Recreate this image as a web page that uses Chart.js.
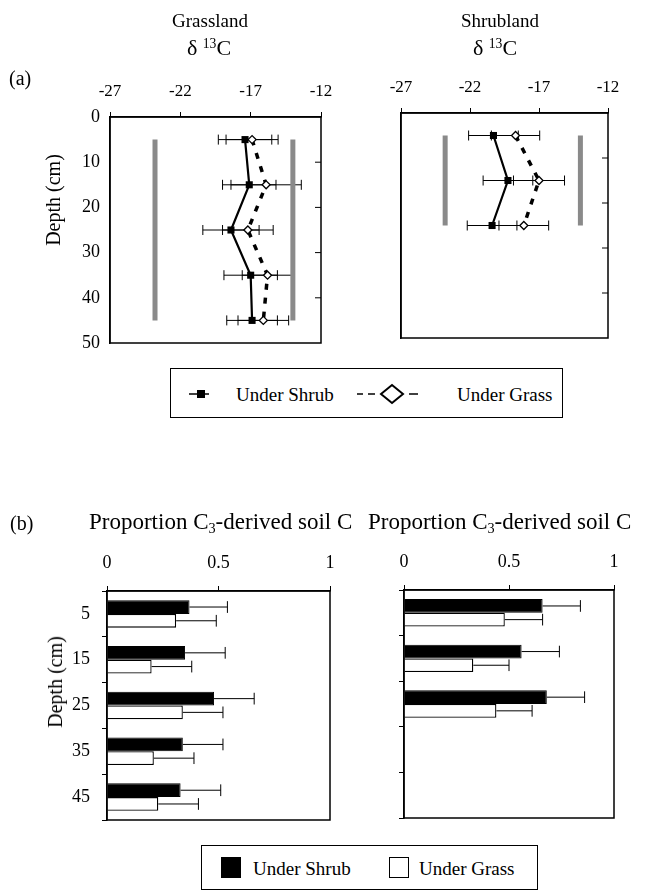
<!DOCTYPE html>
<html>
<head>
<meta charset="utf-8">
<script src="https://cdn.jsdelivr.net/npm/chart.js@4.4.1/dist/chart.umd.min.js"></script>
<style>
body { margin:0; background:#fff; }
#page { position:relative; width:658px; height:893px; overflow:hidden; font-family:"Liberation Serif", "Times New Roman", serif; color:#000; }
canvas { position:absolute; }
.txt { position:absolute; white-space:nowrap; line-height:1; transform:translate(-50%,-50%); }
.ltxt { position:absolute; white-space:nowrap; line-height:1; transform:translateY(-50%); }
.vtxt { position:absolute; white-space:nowrap; line-height:1; transform:translate(-50%,-50%) rotate(-90deg); }
.box { position:absolute; border:1px solid #000; box-sizing:border-box; }
sup { font-size:0.62em; vertical-align:0.55em; line-height:0; }
sub { font-size:0.62em; vertical-align:-0.3em; line-height:0; }
svg { position:absolute; overflow:visible; }
</style>
</head>
<body>
<div id="page">
  <canvas id="ga" width="340" height="360" style="left:0;top:0"></canvas>
  <canvas id="sa" width="318" height="360" style="left:340px;top:0"></canvas>
  <canvas id="gb" width="340" height="320" style="left:0;top:520px"></canvas>
  <canvas id="sb" width="318" height="320" style="left:340px;top:520px"></canvas>

  <div class="txt" style="left:210px;top:20px;font-size:19px">Grassland</div>
  <div class="txt" style="left:209px;top:48px;font-size:22px">δ <sup>13</sup>C</div>
  <div class="txt" style="left:500px;top:20px;font-size:19px">Shrubland</div>
  <div class="txt" style="left:495px;top:48px;font-size:22px">δ <sup>13</sup>C</div>
  <div class="ltxt" style="left:9px;top:78px;font-size:20px">(a)</div>
  <div class="vtxt" style="left:53px;top:200px;font-size:20px">Depth (cm)</div>

  <div class="box" style="left:170px;top:368px;width:393px;height:50px"></div>
  <svg style="left:186px;top:386px" width="26" height="16">
    <line x1="3" y1="8" x2="23" y2="8" stroke="#000" stroke-width="1.5"/>
    <rect x="11" y="4" width="8" height="8" fill="#000"/>
  </svg>
  <div class="ltxt" style="left:236px;top:394px;font-size:19px">Under Shrub</div>
  <svg style="left:354px;top:382px" width="68" height="24">
    <line x1="3" y1="12" x2="9" y2="12" stroke="#000" stroke-width="1.5"/>
    <line x1="14" y1="12" x2="21" y2="12" stroke="#000" stroke-width="1.5"/>
    <polygon points="27,12 38,3 49,12 38,21" fill="#fff" stroke="#000" stroke-width="2"/>
    <line x1="55" y1="12" x2="64" y2="12" stroke="#000" stroke-width="1.5"/>
  </svg>
  <div class="ltxt" style="left:457px;top:394px;font-size:19px">Under Grass</div>

  <div class="ltxt" style="left:10px;top:523px;font-size:20px">(b)</div>
  <div class="ltxt" style="left:89px;top:521px;font-size:23px">Proportion C<sub>3</sub>-derived soil C</div>
  <div class="ltxt" style="left:368px;top:521px;font-size:23px">Proportion C<sub>3</sub>-derived soil C</div>
  <div class="vtxt" style="left:55px;top:682px;font-size:20px">Depth (cm)</div>

  <div class="box" style="left:201px;top:845px;width:337px;height:45px"></div>
  <div style="position:absolute;left:221px;top:857px;width:20px;height:21px;background:#000"></div>
  <div class="ltxt" style="left:253px;top:868px;font-size:19px">Under Shrub</div>
  <div style="position:absolute;left:389px;top:857px;width:20px;height:21px;border:1px solid #000;box-sizing:border-box;background:#fff"></div>
  <div class="ltxt" style="left:419px;top:868px;font-size:19px">Under Grass</div>
</div>

<script>
// depths and tick values
var depths = [5, 15, 25, 35, 45];
var depthTicks = [0, 10, 20, 30, 40, 50];
var d13cTicks = [-27, -22, -17, -12];
var depthLabels = ['5', '15', '25', '35', '45'];
var propTicks = [0, 0.5, 1];

// (a) delta 13C, grassland site
var grassSiteShrub = [-17.4, -17.1, -18.4, -17.0, -16.9];
var grassSiteShrubErr = [1.9, 1.9, 2.0, 1.9, 1.8];
var grassSiteGrass = [-16.9, -15.9, -17.2, -15.8, -16.1];
var grassSiteGrassErr = [1.85, 2.5, 1.8, 1.8, 1.8];

// (a) delta 13C, shrubland site
var shrubSiteShrub = [-20.3, -19.25, -20.4];
var shrubSiteShrubErr = [1.8, 1.8, 1.8];
var shrubSiteGrass = [-18.7, -17.0, -18.1];
var shrubSiteGrassErr = [1.75, 1.85, 1.8];

// C3 / C4 end members (grey bars) and the depth span they cover
var endMembers = [-23.8, -14.0];
var grassSiteSpan = [5, 45];
var shrubSiteSpan = [5, 25];

// (b) proportion of C3-derived soil C
var grassPropShrub = [0.37, 0.35, 0.48, 0.34, 0.33];
var grassPropShrubErr = [0.17, 0.18, 0.18, 0.18, 0.18];
var grassPropGrass = [0.31, 0.20, 0.34, 0.21, 0.23];
var grassPropGrassErr = [0.18, 0.18, 0.18, 0.18, 0.18];
var shrubPropShrub = [0.66, 0.56, 0.68];
var shrubPropShrubErr = [0.18, 0.18, 0.18];
var shrubPropGrass = [0.48, 0.33, 0.44];
var shrubPropGrassErr = [0.18, 0.17, 0.17];

var serif = "'Liberation Serif', 'Times New Roman', serif";
Chart.defaults.font.family = serif;
Chart.defaults.color = '#000';

// box round the plot, error bars, and the little inward ticks on the right edge
var frameAndErrors = {
  id: 'frameAndErrors',
  beforeDatasetsDraw: function(chart) {
    var ctx = chart.ctx, xs = chart.scales.x, ys = chart.scales.y;
    ctx.save();
    ctx.strokeStyle = '#000';
    ctx.lineWidth = 1;
    chart.data.datasets.forEach(function(ds, i) {
      if (!ds.errors) return;
      var meta = chart.getDatasetMeta(i);
      ds.data.forEach(function(p, k) {
        var err = ds.errors[k];
        var x1, x2, py, half;
        if (typeof p === 'number') {
          // one-sided bar error
          var el = meta.data[k];
          x1 = xs.getPixelForValue(p);
          x2 = xs.getPixelForValue(p + err);
          py = el.y;
          half = el.height / 2 - 1;
          ctx.beginPath();
          ctx.moveTo(x1, py); ctx.lineTo(x2, py);
          ctx.moveTo(x2, py - half); ctx.lineTo(x2, py + half);
          ctx.stroke();
        } else {
          x1 = xs.getPixelForValue(p.x - err);
          x2 = xs.getPixelForValue(p.x + err);
          py = ys.getPixelForValue(p.y);
          half = 5;
          ctx.beginPath();
          ctx.moveTo(x1, py); ctx.lineTo(x2, py);
          ctx.moveTo(x1, py - half); ctx.lineTo(x1, py + half);
          ctx.moveTo(x2, py - half); ctx.lineTo(x2, py + half);
          ctx.stroke();
        }
      });
    });
    ctx.restore();
  },
  afterDraw: function(chart, args, opts) {
    var ctx = chart.ctx, a = chart.chartArea, ys = chart.scales.y;
    ctx.save();
    ctx.strokeStyle = '#000';
    ctx.lineWidth = 1.5;
    ctx.strokeRect(a.left, a.top, a.right - a.left, a.bottom - a.top);
    if (opts.innerTicks) {
      ctx.lineWidth = 1;
      opts.innerTicks.forEach(function(v) {
        var py = ys.getPixelForValue(v);
        ctx.beginPath();
        ctx.moveTo(a.right, py); ctx.lineTo(a.right - 6, py);
        ctx.stroke();
      });
    }
    ctx.restore();
  }
};

function fixSize(w, h) {
  return function(scale) {
    if (w != null) scale.width = w;
    if (h != null) scale.height = h;
    scale.paddingLeft = 0; scale.paddingRight = 0;
    scale.paddingTop = 0; scale.paddingBottom = 0;
  };
}

function plainLabel(v) { return String(v); }

function toPoints(vals) {
  return vals.map(function(v, i) { return {x: v, y: depths[i]}; });
}

function makeDeltaChart(id, shrub, shrubErr, grass, grassErr, span, pad, yW, xH, showY) {
  var grey = endMembers.map(function(v) {
    return {
      data: [{x: v, y: span[0]}, {x: v, y: span[1]}],
      showLine: true, borderColor: '#8a8a8a', borderWidth: 5, borderCapStyle: 'butt',
      pointRadius: 0
    };
  });
  return new Chart(document.getElementById(id), {
    type: 'scatter',
    data: {
      datasets: [
        { label: 'Under Shrub', data: toPoints(shrub), errors: shrubErr, showLine: true,
          borderColor: '#000', borderWidth: 2.2, pointStyle: 'rect', pointRadius: 5,
          pointBackgroundColor: '#000', pointBorderColor: '#000', pointBorderWidth: 0 },
        { label: 'Under Grass', data: toPoints(grass), errors: grassErr, showLine: true,
          borderColor: '#000', borderWidth: 3.5, borderDash: [6, 8], pointStyle: 'rectRot', pointRadius: 4,
          pointBackgroundColor: '#fff', pointBorderColor: '#000', pointBorderWidth: 1.3 }
      ].concat(grey)
    },
    options: {
      responsive: false, animation: false, devicePixelRatio: 1,
      layout: { padding: pad },
      plugins: { legend: {display: false}, tooltip: {enabled: false},
                 frameAndErrors: { innerTicks: depthTicks.slice(1, -1) } },
      scales: {
        x: {
          type: 'linear', position: 'top', min: -27, max: -12,
          afterBuildTicks: function(s) { s.ticks = d13cTicks.map(function(v) { return {value: v}; }); },
          afterFit: fixSize(null, xH),
          grid: { drawOnChartArea: false, drawTicks: true, tickLength: 5, color: '#000' },
          border: { color: '#000', width: 1.5 },
          ticks: { padding: 10, maxRotation: 0, callback: plainLabel, font: {family: serif, size: 17} }
        },
        y: {
          type: 'linear', position: 'left', min: 0, max: 50, reverse: true,
          afterBuildTicks: function(s) { s.ticks = depthTicks.map(function(v) { return {value: v}; }); },
          afterFit: fixSize(yW, null),
          grid: { drawOnChartArea: false, drawTicks: false, color: '#000' },
          border: { color: '#000', width: 1.5 },
          ticks: { display: showY, padding: 10, callback: plainLabel, font: {family: serif, size: 18} }
        }
      }
    },
    plugins: [frameAndErrors]
  });
}

function makePropChart(id, shrub, shrubErr, grass, grassErr, pad, yW, xH, showY) {
  return new Chart(document.getElementById(id), {
    type: 'bar',
    data: {
      labels: depthLabels,
      datasets: [
        { label: 'Under Shrub', data: shrub, errors: shrubErr, backgroundColor: '#000', borderColor: '#000', borderWidth: 1 },
        { label: 'Under Grass', data: grass, errors: grassErr, backgroundColor: '#fff', borderColor: '#000', borderWidth: 1.3 }
      ]
    },
    options: {
      indexAxis: 'y',
      responsive: false, animation: false, devicePixelRatio: 1,
      layout: { padding: pad },
      datasets: { bar: { categoryPercentage: 0.6, barPercentage: 1 } },
      plugins: { legend: {display: false}, tooltip: {enabled: false}, frameAndErrors: {} },
      scales: {
        x: {
          type: 'linear', position: 'top', min: 0, max: 1,
          afterBuildTicks: function(s) { s.ticks = propTicks.map(function(v) { return {value: v}; }); },
          afterFit: fixSize(null, xH),
          grid: { drawOnChartArea: false, drawTicks: true, tickLength: 5, color: '#000' },
          border: { color: '#000', width: 1.5 },
          ticks: { padding: 12, maxRotation: 0, callback: plainLabel, font: {family: serif, size: 18} }
        },
        y: {
          type: 'category', position: 'left',
          afterFit: fixSize(yW, null),
          grid: { offset: true, drawOnChartArea: false, drawTicks: true, tickLength: 5, color: '#000' },
          border: { color: '#000', width: 1.5 },
          ticks: { display: showY, padding: 12, font: {family: serif, size: 18} }
        }
      }
    },
    plugins: [frameAndErrors]
  });
}

makeDeltaChart('ga', grassSiteShrub, grassSiteShrubErr, grassSiteGrass, grassSiteGrassErr,
  grassSiteSpan, {left: 0, top: 0, right: 19, bottom: 17}, 110, 117, true);
makeDeltaChart('sa', shrubSiteShrub, shrubSiteShrubErr, shrubSiteGrass, shrubSiteGrassErr,
  shrubSiteSpan, {left: 0, top: 0, right: 50, bottom: 22}, 61, 113, false);
makePropChart('gb', grassPropShrub, grassPropShrubErr, grassPropGrass, grassPropGrassErr,
  {left: 0, top: 0, right: 10, bottom: 20}, 107, 71, true);
makePropChart('sb', shrubPropShrub, shrubPropShrubErr, shrubPropGrass, shrubPropGrassErr,
  {left: 0, top: 0, right: 44, bottom: 22}, 64, 70, false);
</script>
</body>
</html>
